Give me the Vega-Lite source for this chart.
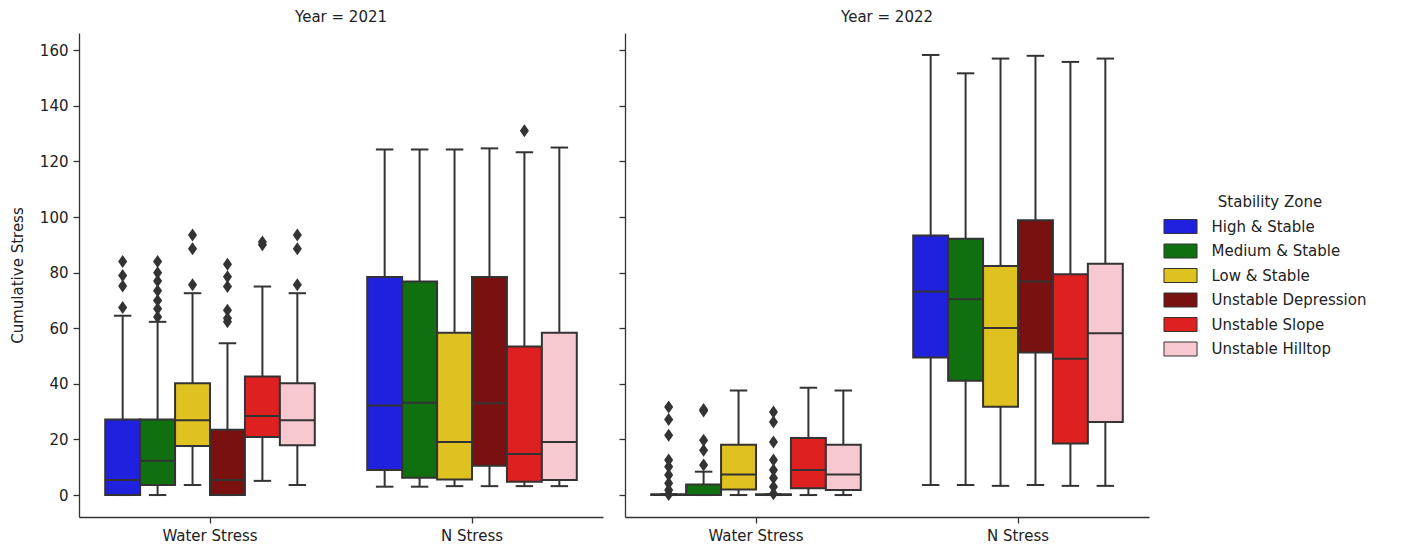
{
  "$schema": "https://vega.github.io/schema/vega-lite/v6.json",
  "padding": {"left": 10, "top": 10, "right": 5, "bottom": 5},
  "background": "white",
  "datasets": {
    "boxes": [
      {"Year": 2021, "Stress": "Water Stress", "Zone": "High & Stable", "lower": 0, "q1": 0, "median": 5.4, "q3": 27.2, "upper": 64.5},
      {"Year": 2021, "Stress": "Water Stress", "Zone": "Medium & Stable", "lower": 0, "q1": 3.6, "median": 12.3, "q3": 27.2, "upper": 62.3},
      {"Year": 2021, "Stress": "Water Stress", "Zone": "Low & Stable", "lower": 3.6, "q1": 17.6, "median": 26.9, "q3": 40.2, "upper": 72.6},
      {"Year": 2021, "Stress": "Water Stress", "Zone": "Unstable Depression", "lower": 0, "q1": 0, "median": 5.4, "q3": 23.5, "upper": 54.6},
      {"Year": 2021, "Stress": "Water Stress", "Zone": "Unstable Slope", "lower": 5.1, "q1": 20.9, "median": 28.4, "q3": 42.6, "upper": 75},
      {"Year": 2021, "Stress": "Water Stress", "Zone": "Unstable Hilltop", "lower": 3.6, "q1": 17.9, "median": 26.9, "q3": 40.2, "upper": 72.6},
      {"Year": 2021, "Stress": "N Stress", "Zone": "High & Stable", "lower": 3, "q1": 9, "median": 32.2, "q3": 78.4, "upper": 124.3},
      {"Year": 2021, "Stress": "N Stress", "Zone": "Medium & Stable", "lower": 3, "q1": 6.2, "median": 33.2, "q3": 76.8, "upper": 124.3},
      {"Year": 2021, "Stress": "N Stress", "Zone": "Low & Stable", "lower": 3.2, "q1": 5.6, "median": 19.1, "q3": 58.4, "upper": 124.3},
      {"Year": 2021, "Stress": "N Stress", "Zone": "Unstable Depression", "lower": 3.2, "q1": 10.5, "median": 33, "q3": 78.4, "upper": 124.7},
      {"Year": 2021, "Stress": "N Stress", "Zone": "Unstable Slope", "lower": 3.2, "q1": 4.8, "median": 14.8, "q3": 53.4, "upper": 123.3},
      {"Year": 2021, "Stress": "N Stress", "Zone": "Unstable Hilltop", "lower": 3.2, "q1": 5.4, "median": 19.1, "q3": 58.4, "upper": 125},
      {"Year": 2022, "Stress": "Water Stress", "Zone": "High & Stable", "lower": 0, "q1": 0, "median": 0, "q3": 0.3, "upper": 0.3},
      {"Year": 2022, "Stress": "Water Stress", "Zone": "Medium & Stable", "lower": 0, "q1": 0, "median": 0, "q3": 3.8, "upper": 8.4},
      {"Year": 2022, "Stress": "Water Stress", "Zone": "Low & Stable", "lower": 0, "q1": 2, "median": 7.4, "q3": 18.1, "upper": 37.6},
      {"Year": 2022, "Stress": "Water Stress", "Zone": "Unstable Depression", "lower": 0, "q1": 0, "median": 0, "q3": 0.3, "upper": 0.3},
      {"Year": 2022, "Stress": "Water Stress", "Zone": "Unstable Slope", "lower": 0, "q1": 2.4, "median": 9, "q3": 20.5, "upper": 38.6},
      {"Year": 2022, "Stress": "Water Stress", "Zone": "Unstable Hilltop", "lower": 0, "q1": 1.8, "median": 7.4, "q3": 18.1, "upper": 37.6},
      {"Year": 2022, "Stress": "N Stress", "Zone": "High & Stable", "lower": 3.6, "q1": 49.5, "median": 73.2, "q3": 93.4, "upper": 158.3},
      {"Year": 2022, "Stress": "N Stress", "Zone": "Medium & Stable", "lower": 3.6, "q1": 41.1, "median": 70.4, "q3": 92.2, "upper": 151.7},
      {"Year": 2022, "Stress": "N Stress", "Zone": "Low & Stable", "lower": 3.3, "q1": 31.8, "median": 60.1, "q3": 82.4, "upper": 157},
      {"Year": 2022, "Stress": "N Stress", "Zone": "Unstable Depression", "lower": 3.6, "q1": 51.3, "median": 76.8, "q3": 98.8, "upper": 158},
      {"Year": 2022, "Stress": "N Stress", "Zone": "Unstable Slope", "lower": 3.3, "q1": 18.5, "median": 49, "q3": 79.4, "upper": 155.8},
      {"Year": 2022, "Stress": "N Stress", "Zone": "Unstable Hilltop", "lower": 3.3, "q1": 26.3, "median": 58.2, "q3": 83.2, "upper": 157}
    ],
    "outliers": [
      {"Year": 2021, "Stress": "Water Stress", "Zone": "High & Stable", "value": 67.5},
      {"Year": 2021, "Stress": "Water Stress", "Zone": "High & Stable", "value": 75.2},
      {"Year": 2021, "Stress": "Water Stress", "Zone": "High & Stable", "value": 79},
      {"Year": 2021, "Stress": "Water Stress", "Zone": "High & Stable", "value": 84},
      {"Year": 2021, "Stress": "Water Stress", "Zone": "Medium & Stable", "value": 64},
      {"Year": 2021, "Stress": "Water Stress", "Zone": "Medium & Stable", "value": 67},
      {"Year": 2021, "Stress": "Water Stress", "Zone": "Medium & Stable", "value": 70},
      {"Year": 2021, "Stress": "Water Stress", "Zone": "Medium & Stable", "value": 73.5},
      {"Year": 2021, "Stress": "Water Stress", "Zone": "Medium & Stable", "value": 77},
      {"Year": 2021, "Stress": "Water Stress", "Zone": "Medium & Stable", "value": 80},
      {"Year": 2021, "Stress": "Water Stress", "Zone": "Medium & Stable", "value": 84},
      {"Year": 2021, "Stress": "Water Stress", "Zone": "Low & Stable", "value": 75.6},
      {"Year": 2021, "Stress": "Water Stress", "Zone": "Low & Stable", "value": 88.6},
      {"Year": 2021, "Stress": "Water Stress", "Zone": "Low & Stable", "value": 93.5},
      {"Year": 2021, "Stress": "Water Stress", "Zone": "Unstable Depression", "value": 62.3},
      {"Year": 2021, "Stress": "Water Stress", "Zone": "Unstable Depression", "value": 63.6},
      {"Year": 2021, "Stress": "Water Stress", "Zone": "Unstable Depression", "value": 66.5},
      {"Year": 2021, "Stress": "Water Stress", "Zone": "Unstable Depression", "value": 75},
      {"Year": 2021, "Stress": "Water Stress", "Zone": "Unstable Depression", "value": 78.5},
      {"Year": 2021, "Stress": "Water Stress", "Zone": "Unstable Depression", "value": 83},
      {"Year": 2021, "Stress": "Water Stress", "Zone": "Unstable Slope", "value": 90},
      {"Year": 2021, "Stress": "Water Stress", "Zone": "Unstable Slope", "value": 91},
      {"Year": 2021, "Stress": "Water Stress", "Zone": "Unstable Hilltop", "value": 75.6},
      {"Year": 2021, "Stress": "Water Stress", "Zone": "Unstable Hilltop", "value": 88.6},
      {"Year": 2021, "Stress": "Water Stress", "Zone": "Unstable Hilltop", "value": 93.5},
      {"Year": 2021, "Stress": "N Stress", "Zone": "Unstable Slope", "value": 131},
      {"Year": 2022, "Stress": "Water Stress", "Zone": "High & Stable", "value": 0.2},
      {"Year": 2022, "Stress": "Water Stress", "Zone": "High & Stable", "value": 1.8},
      {"Year": 2022, "Stress": "Water Stress", "Zone": "High & Stable", "value": 4.2},
      {"Year": 2022, "Stress": "Water Stress", "Zone": "High & Stable", "value": 7.2},
      {"Year": 2022, "Stress": "Water Stress", "Zone": "High & Stable", "value": 10.2},
      {"Year": 2022, "Stress": "Water Stress", "Zone": "High & Stable", "value": 12.6},
      {"Year": 2022, "Stress": "Water Stress", "Zone": "High & Stable", "value": 21.5},
      {"Year": 2022, "Stress": "Water Stress", "Zone": "High & Stable", "value": 27.2},
      {"Year": 2022, "Stress": "Water Stress", "Zone": "High & Stable", "value": 31.7},
      {"Year": 2022, "Stress": "Water Stress", "Zone": "Medium & Stable", "value": 10.8},
      {"Year": 2022, "Stress": "Water Stress", "Zone": "Medium & Stable", "value": 16.1},
      {"Year": 2022, "Stress": "Water Stress", "Zone": "Medium & Stable", "value": 19.7},
      {"Year": 2022, "Stress": "Water Stress", "Zone": "Medium & Stable", "value": 30.2},
      {"Year": 2022, "Stress": "Water Stress", "Zone": "Medium & Stable", "value": 30.8},
      {"Year": 2022, "Stress": "Water Stress", "Zone": "Unstable Depression", "value": 0.5},
      {"Year": 2022, "Stress": "Water Stress", "Zone": "Unstable Depression", "value": 3},
      {"Year": 2022, "Stress": "Water Stress", "Zone": "Unstable Depression", "value": 6.1},
      {"Year": 2022, "Stress": "Water Stress", "Zone": "Unstable Depression", "value": 9},
      {"Year": 2022, "Stress": "Water Stress", "Zone": "Unstable Depression", "value": 12.6},
      {"Year": 2022, "Stress": "Water Stress", "Zone": "Unstable Depression", "value": 19.1},
      {"Year": 2022, "Stress": "Water Stress", "Zone": "Unstable Depression", "value": 26.3},
      {"Year": 2022, "Stress": "Water Stress", "Zone": "Unstable Depression", "value": 29.9}
    ]
  },
  "spacing": 15,
  "hconcat": [
    {
      "width": 524,
      "height": 484,
      "title": {"text": "Year = 2021"},
      "layer": [
        {
          "data": {"name": "boxes"},
          "transform": [{"filter": "datum.Year == 2021"}],
          "mark": {"type": "rule", "color": "#333333", "strokeWidth": 2},
          "encoding": {
            "x": {"field": "Stress", "type": "nominal", "title": null, "scale": {"domain": ["Water Stress", "N Stress"], "paddingInner": 0.2, "paddingOuter": 0.1}},
            "xOffset": {"field": "Zone", "type": "nominal", "scale": {"domain": ["High & Stable", "Medium & Stable", "Low & Stable", "Unstable Depression", "Unstable Slope", "Unstable Hilltop"], "paddingInner": 0, "paddingOuter": 0}},
            "y": {"field": "lower", "type": "quantitative", "title": "Cumulative Stress", "scale": {"domain": [-7.9, 166.2], "nice": false, "zero": false}, "axis": {"values": [0, 20, 40, 60, 80, 100, 120, 140, 160]}},
            "y2": {"field": "upper"}
          }
        },
        {
          "data": {"name": "boxes"},
          "transform": [{"filter": "datum.Year == 2021"}],
          "mark": {"type": "tick", "orient": "horizontal", "size": 17.5, "thickness": 2, "color": "#333333", "opacity": 1},
          "encoding": {
            "x": {"field": "Stress", "type": "nominal", "title": null},
            "xOffset": {"field": "Zone", "type": "nominal"},
            "y": {"field": "lower", "type": "quantitative", "title": "Cumulative Stress"}
          }
        },
        {
          "data": {"name": "boxes"},
          "transform": [{"filter": "datum.Year == 2021"}],
          "mark": {"type": "tick", "orient": "horizontal", "size": 17.5, "thickness": 2, "color": "#333333", "opacity": 1},
          "encoding": {
            "x": {"field": "Stress", "type": "nominal", "title": null},
            "xOffset": {"field": "Zone", "type": "nominal"},
            "y": {"field": "upper", "type": "quantitative", "title": "Cumulative Stress"}
          }
        },
        {
          "data": {"name": "boxes"},
          "transform": [{"filter": "datum.Year == 2021"}],
          "mark": {"type": "bar", "stroke": "#333333", "strokeWidth": 2, "opacity": 1},
          "encoding": {
            "x": {"field": "Stress", "type": "nominal", "title": null},
            "xOffset": {"field": "Zone", "type": "nominal"},
            "y": {"field": "q1", "type": "quantitative", "title": "Cumulative Stress"},
            "y2": {"field": "q3"},
            "color": {"field": "Zone", "type": "nominal", "title": "Stability Zone", "scale": {"domain": ["High & Stable", "Medium & Stable", "Low & Stable", "Unstable Depression", "Unstable Slope", "Unstable Hilltop"], "range": ["#2020df", "#107010", "#dfc120", "#7a1111", "#df2020", "#f7c8d0"]}, "legend": {"orient": "none", "legendX": 1094, "legendY": 162}}
          }
        },
        {
          "data": {"name": "boxes"},
          "transform": [{"filter": "datum.Year == 2021"}],
          "mark": {"type": "tick", "orient": "horizontal", "size": 35, "thickness": 2, "color": "#333333", "opacity": 1},
          "encoding": {
            "x": {"field": "Stress", "type": "nominal", "title": null},
            "xOffset": {"field": "Zone", "type": "nominal"},
            "y": {"field": "median", "type": "quantitative", "title": "Cumulative Stress"}
          }
        },
        {
          "data": {"name": "outliers"},
          "transform": [{"filter": "datum.Year == 2021"}],
          "mark": {"type": "point", "shape": "M0,-1L0.7,0L0,1L-0.7,0Z", "filled": true, "size": 169, "color": "#333333", "opacity": 1},
          "encoding": {
            "x": {"field": "Stress", "type": "nominal", "title": null},
            "xOffset": {"field": "Zone", "type": "nominal"},
            "y": {"field": "value", "type": "quantitative", "title": "Cumulative Stress"}
          }
        }
      ]
    },
    {
      "width": 524,
      "height": 484,
      "title": {"text": "Year = 2022"},
      "layer": [
        {
          "data": {"name": "boxes"},
          "transform": [{"filter": "datum.Year == 2022"}],
          "mark": {"type": "rule", "color": "#333333", "strokeWidth": 2},
          "encoding": {
            "x": {"field": "Stress", "type": "nominal", "title": null, "scale": {"domain": ["Water Stress", "N Stress"], "paddingInner": 0.2, "paddingOuter": 0.1}},
            "xOffset": {"field": "Zone", "type": "nominal", "scale": {"domain": ["High & Stable", "Medium & Stable", "Low & Stable", "Unstable Depression", "Unstable Slope", "Unstable Hilltop"], "paddingInner": 0, "paddingOuter": 0}},
            "y": {"field": "lower", "type": "quantitative", "title": null, "scale": {"domain": [-7.9, 166.2], "nice": false, "zero": false}, "axis": {"values": [0, 20, 40, 60, 80, 100, 120, 140, 160], "labels": false}},
            "y2": {"field": "upper"}
          }
        },
        {
          "data": {"name": "boxes"},
          "transform": [{"filter": "datum.Year == 2022"}],
          "mark": {"type": "tick", "orient": "horizontal", "size": 17.5, "thickness": 2, "color": "#333333", "opacity": 1},
          "encoding": {
            "x": {"field": "Stress", "type": "nominal", "title": null},
            "xOffset": {"field": "Zone", "type": "nominal"},
            "y": {"field": "lower", "type": "quantitative", "title": null}
          }
        },
        {
          "data": {"name": "boxes"},
          "transform": [{"filter": "datum.Year == 2022"}],
          "mark": {"type": "tick", "orient": "horizontal", "size": 17.5, "thickness": 2, "color": "#333333", "opacity": 1},
          "encoding": {
            "x": {"field": "Stress", "type": "nominal", "title": null},
            "xOffset": {"field": "Zone", "type": "nominal"},
            "y": {"field": "upper", "type": "quantitative", "title": null}
          }
        },
        {
          "data": {"name": "boxes"},
          "transform": [{"filter": "datum.Year == 2022"}],
          "mark": {"type": "bar", "stroke": "#333333", "strokeWidth": 2, "opacity": 1},
          "encoding": {
            "x": {"field": "Stress", "type": "nominal", "title": null},
            "xOffset": {"field": "Zone", "type": "nominal"},
            "y": {"field": "q1", "type": "quantitative", "title": null},
            "y2": {"field": "q3"},
            "color": {"field": "Zone", "type": "nominal", "title": "Stability Zone", "scale": {"domain": ["High & Stable", "Medium & Stable", "Low & Stable", "Unstable Depression", "Unstable Slope", "Unstable Hilltop"], "range": ["#2020df", "#107010", "#dfc120", "#7a1111", "#df2020", "#f7c8d0"]}, "legend": {"orient": "none", "legendX": 1094, "legendY": 162}}
          }
        },
        {
          "data": {"name": "boxes"},
          "transform": [{"filter": "datum.Year == 2022"}],
          "mark": {"type": "tick", "orient": "horizontal", "size": 35, "thickness": 2, "color": "#333333", "opacity": 1},
          "encoding": {
            "x": {"field": "Stress", "type": "nominal", "title": null},
            "xOffset": {"field": "Zone", "type": "nominal"},
            "y": {"field": "median", "type": "quantitative", "title": null}
          }
        },
        {
          "data": {"name": "outliers"},
          "transform": [{"filter": "datum.Year == 2022"}],
          "mark": {"type": "point", "shape": "M0,-1L0.7,0L0,1L-0.7,0Z", "filled": true, "size": 169, "color": "#333333", "opacity": 1},
          "encoding": {
            "x": {"field": "Stress", "type": "nominal", "title": null},
            "xOffset": {"field": "Zone", "type": "nominal"},
            "y": {"field": "value", "type": "quantitative", "title": null}
          }
        }
      ]
    }
  ],
  "config": {
    "font": "DejaVu Sans",
    "view": {"stroke": null},
    "title": {"fontSize": 15, "fontWeight": "normal", "color": "#222222", "offset": 8},
    "axis": {"grid": false, "domainColor": "#333333", "domainWidth": 1.3, "tickColor": "#333333", "tickWidth": 1.3, "tickSize": 6, "labelFontSize": 15, "labelColor": "#222222", "titleFontSize": 15, "titleFontWeight": "normal", "titleColor": "#222222", "labelPadding": 5},
    "axisX": {"labelAngle": 0},
    "axisY": {"titlePadding": 14},
    "legend": {"titleFontSize": 15, "titleFontWeight": "normal", "titleColor": "#222222", "titleAnchor": "middle", "titlePadding": 9, "labelFontSize": 15, "labelColor": "#222222", "symbolType": "M-2.36,-1H2.36V1H-2.36Z", "symbolSize": 196, "symbolStrokeColor": "#333333", "symbolStrokeWidth": 1, "symbolOpacity": 1, "rowPadding": 5.5, "labelOffset": 23.5}
  }
}
